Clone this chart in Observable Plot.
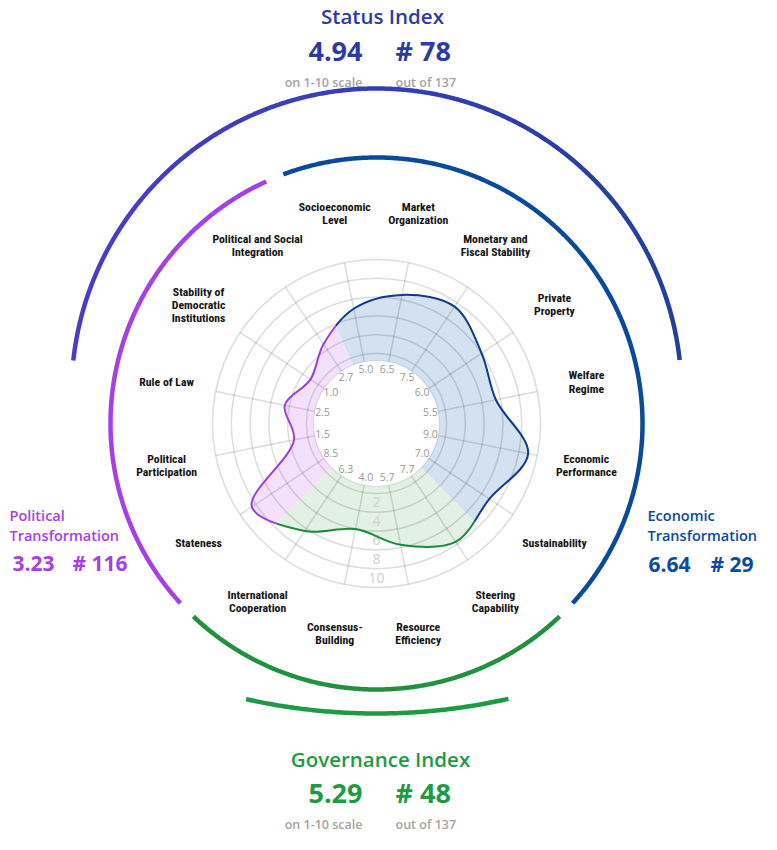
<!DOCTYPE html>
<html><head><meta charset="utf-8">
<script src="https://cdn.jsdelivr.net/npm/d3@7"></script>
<script src="https://cdn.jsdelivr.net/npm/@observablehq/plot@0.6"></script>
<style>body{margin:0;background:#fff}</style>
</head><body><div id="chart"></div>
<script>
// ---- data ----
const categories = ["Market\nOrganization","Monetary and\nFiscal Stability","Private\nProperty","Welfare\nRegime","Economic\nPerformance","Sustainability","Steering\nCapability","Resource\nEfficiency","Consensus-\nBuilding","International\nCooperation","Stateness","Political\nParticipation","Rule of Law","Stability of\nDemocratic\nInstitutions","Political and Social\nIntegration","Socioeconomic\nLevel"];
const scores = [6.5, 7.5, 6.0, 5.5, 9.0, 7.0, 7.7, 5.7, 4.0, 6.3, 8.5, 1.5, 2.5, 1.0, 2.7, 5.0];
const dimensions = ["econ","econ","econ","econ","econ","econ","gov","gov","gov","gov","pol","pol","pol","pol","pol","econ"];
const scaleTicks = [2, 4, 6, 8, 10];
const ringValues = [0, 2, 4, 6, 8, 10];
const statusIndex = {name: "Status Index", score: "4.94", rank: "# 78", scaleNote: "on 1-10 scale", rankNote: "out of 137"};
const governanceIndex = {name: "Governance Index", score: "5.29", rank: "# 48", scaleNote: "on 1-10 scale", rankNote: "out of 137"};
const politicalT = {name: "Political\nTransformation", score: "3.23", rank: "# 116"};
const economicT = {name: "Economic\nTransformation", score: "6.64", rank: "# 29"};

// ---- fonts: prefer a narrow face for the dense labels if one is installed ----
const ctx = document.createElement("canvas").getContext("2d");
function hasFont(name) {
  const s = "Socioeconomic Level 0123";
  return ["monospace", "serif"].some(b => {
    ctx.font = `20px ${b}`; const a = ctx.measureText(s).width;
    ctx.font = `20px '${name}', ${b}`; return Math.abs(ctx.measureText(s).width - a) > 0.5;
  });
}
const F = "Open Sans, Noto Sans, sans-serif";
const narrow = ["Liberation Sans Narrow", "Roboto Condensed", "Open Sans Condensed", "DejaVu Sans Condensed"].find(hasFont);
const LF = narrow ? `'${narrow}', ${F}` : F;
ctx.font = `700 100px ${LF}`;
const LS = Math.max(10, Math.min(12.5, 72 / (ctx.measureText("Socioeconomic").width / 100)));

// ---- geometry ----
const W = 777, H = 850, CX = 376, CY = 423;
const rv = d3.scaleLinear().domain([0, 10]).range([70, 164]);
const R_WHITE = 63, R_LABEL = 214, R_VALUE = 55, R_ARC = 266;
const rad = a => a * Math.PI / 180;
const ang = i => 11.25 + 22.5 * i;
const px = (r, a) => r * Math.sin(rad(a));
const py = (r, a) => -r * Math.cos(rad(a));
const colors = {econ: "#0b4a9a", gov: "#1f9140", pol: "#a53fea", status: "#2c3aa8", govIdx: "#1e9a45"};
const fills = {econ: "#d3e1f1", gov: "#e2f1e3", pol: "#f3e1fc"};
const curveLine = {econ: "#0d3c8a", gov: "#1b8a3a", pol: "#9b3fe0"};
const sectors = {econ: [-22.5, 135], gov: [135, 225], pol: [225, 337.5]};
const arcs = {pol: [227.5, 335.5], econ: [-20.5, 132.5], gov: [136.5, 223.5]};

const pts = scores.map((s, i) => ({x: px(rv(s), ang(i)), y: py(rv(s), ang(i))}));
const idx = d3.range(categories.length);
const arcPts = (r, a0, a1, dy = 0) => d3.range(a0, a1 + 0.001, 0.25).map(a => ({x: px(r, a), y: py(r, a) + dy}));
const txt = (t, x, y, o) => Plot.text([t], {x: () => x - CX, y: () => y - CY, text: d => d, fontFamily: F, ...o});

const marks = [];
for (const k of ["econ", "gov", "pol"]) {
  marks.push(Plot.line(pts, {x: "x", y: "y", curve: "catmull-rom-closed", fill: fills[k], stroke: "none", ariaDescription: "clip-" + k}));
}
marks.push(Plot.dot(ringValues, {x: () => 0, y: () => 0, r: v => rv(v), stroke: "#000", strokeOpacity: 0.13, strokeWidth: 1.6, fill: "none"}));
marks.push(Plot.link(idx, {x1: i => px(R_WHITE, ang(i)), y1: i => py(R_WHITE, ang(i)), x2: i => px(rv(10), ang(i)), y2: i => py(rv(10), ang(i)), stroke: "#000", strokeOpacity: 0.13, strokeWidth: 1.6}));
marks.push(Plot.dot([0], {x: () => 0, y: () => 0, r: () => R_WHITE, fill: "white", stroke: "#000", strokeOpacity: 0.1, strokeWidth: 1.2}));
marks.push(Plot.text(scaleTicks, {x: () => 0, y: v => py(rv(v - 1), 180), text: d => String(d), fill: "#cfcfcf", fontSize: 14, fontFamily: F}));
marks.push(Plot.text(idx, {x: i => px(R_VALUE, ang(i)), y: i => py(R_VALUE, ang(i)), text: i => scores[i].toFixed(1), fill: "#9a9a9a", fontSize: 10.5, fontFamily: F}));
for (const k of ["econ", "gov", "pol"]) {
  marks.push(Plot.line(pts, {x: "x", y: "y", curve: "catmull-rom-closed", stroke: curveLine[k], strokeWidth: 2, fill: "none", ariaDescription: "clip-" + k}));
}
marks.push(Plot.text(idx, {x: i => px(R_LABEL, ang(i)), y: i => py(R_LABEL, ang(i)), text: i => categories[i], fill: "#111", fontSize: LS, fontWeight: 700, lineHeight: 1.12, fontFamily: LF}));
for (const k of ["pol", "econ", "gov"]) {
  marks.push(Plot.line(arcPts(R_ARC, ...arcs[k]), {x: "x", y: "y", stroke: colors[k], strokeWidth: 4.5, strokeLinecap: "butt"}));
}
// index arcs (status: circle centred 30px above the radar; governance: shallow arc)
marks.push(Plot.line(arcPts(305, -83.8, 83.8, -30), {x: "x", y: "y", stroke: "url(#statusGrad)", strokeWidth: 4.5, strokeLinecap: "butt"}));
marks.push(Plot.line(arcPts(600, 167.3, 192.7, -310), {x: "x", y: "y", stroke: colors.govIdx, strokeWidth: 4.5, strokeLinecap: "butt"}));

marks.push(txt(statusIndex.name, 382, 17, {fill: colors.status, fontSize: 20.5, fontWeight: 600}));
marks.push(txt(statusIndex.score, 362, 52, {fill: colors.status, fontSize: 27, fontWeight: 700, textAnchor: "end"}));
marks.push(txt(statusIndex.rank, 395, 52, {fill: colors.status, fontSize: 27, fontWeight: 700, textAnchor: "start"}));
marks.push(txt(statusIndex.scaleNote, 362, 82, {fill: "#a3a3a3", fontSize: 12.5, fontWeight: 600, textAnchor: "end"}));
marks.push(txt(statusIndex.rankNote, 395, 82, {fill: "#a3a3a3", fontSize: 12.5, fontWeight: 600, textAnchor: "start"}));

marks.push(txt(governanceIndex.name, 380, 760, {fill: colors.govIdx, fontSize: 20.5, fontWeight: 600}));
marks.push(txt(governanceIndex.score, 362, 794, {fill: colors.govIdx, fontSize: 27, fontWeight: 700, textAnchor: "end"}));
marks.push(txt(governanceIndex.rank, 395, 794, {fill: colors.govIdx, fontSize: 27, fontWeight: 700, textAnchor: "start"}));
marks.push(txt(governanceIndex.scaleNote, 362, 824, {fill: "#a3a3a3", fontSize: 12.5, fontWeight: 600, textAnchor: "end"}));
marks.push(txt(governanceIndex.rankNote, 395, 824, {fill: "#a3a3a3", fontSize: 12.5, fontWeight: 600, textAnchor: "start"}));

marks.push(txt(politicalT.name, 9, 524, {fill: colors.pol, fontSize: 14.5, fontWeight: 600, textAnchor: "start", lineHeight: 1.38}));
marks.push(txt(politicalT.score, 12, 564, {fill: colors.pol, fontSize: 21, fontWeight: 700, textAnchor: "start"}));
marks.push(txt(politicalT.rank, 72, 564, {fill: colors.pol, fontSize: 21, fontWeight: 700, textAnchor: "start"}));

marks.push(txt(economicT.name, 647, 524, {fill: colors.econ, fontSize: 14.5, fontWeight: 600, textAnchor: "start", lineHeight: 1.38}));
marks.push(txt(economicT.score, 648, 565, {fill: colors.econ, fontSize: 21, fontWeight: 700, textAnchor: "start"}));
marks.push(txt(economicT.rank, 710, 565, {fill: colors.econ, fontSize: 21, fontWeight: 700, textAnchor: "start"}));

const plot = Plot.plot({
  width: W, height: H, margin: 0,
  x: {domain: [-CX, W - CX], range: [0, W], axis: null},
  y: {domain: [H - CY, -CY], range: [H, 0], axis: null},
  r: {type: "identity"},
  style: {fontFamily: F, background: "white"},
  marks
});

const NS = "http://www.w3.org/2000/svg";
const defs = document.createElementNS(NS, "defs");
const grad = document.createElementNS(NS, "linearGradient");
grad.setAttribute("id", "statusGrad");
grad.setAttribute("gradientUnits", "userSpaceOnUse");
grad.setAttribute("x1", 70); grad.setAttribute("x2", 684);
grad.setAttribute("y1", 0); grad.setAttribute("y2", 0);
[["0%", "#4c3cc8"], ["100%", "#223f9c"]].forEach(([o, c]) => {
  const s = document.createElementNS(NS, "stop"); s.setAttribute("offset", o); s.setAttribute("stop-color", c); grad.appendChild(s);
});
defs.appendChild(grad);
const RB = 200;
for (const k of ["econ", "gov", "pol"]) {
  const [a0, a1] = sectors[k];
  const cp = document.createElementNS(NS, "clipPath");
  cp.setAttribute("id", "sector-" + k);
  const p = document.createElementNS(NS, "path");
  const large = (a1 - a0) > 180 ? 1 : 0;
  p.setAttribute("d", `M${CX},${CY}L${CX + px(RB, a0)},${CY + py(RB, a0)}A${RB},${RB} 0 ${large} 1 ${CX + px(RB, a1)},${CY + py(RB, a1)}Z`);
  cp.appendChild(p);
  defs.appendChild(cp);
}
plot.insertBefore(defs, plot.firstChild);
for (const k of ["econ", "gov", "pol"]) {
  let gs = plot.querySelectorAll(`g[aria-description="clip-${k}"]`);
  if (!gs.length) gs = plot.querySelectorAll(`g[fill="${fills[k]}"], g[stroke="${curveLine[k]}"]`);
  gs.forEach(g => g.setAttribute("clip-path", `url(#sector-${k})`));
}
document.getElementById("chart").appendChild(plot);
</script>
</body></html>
